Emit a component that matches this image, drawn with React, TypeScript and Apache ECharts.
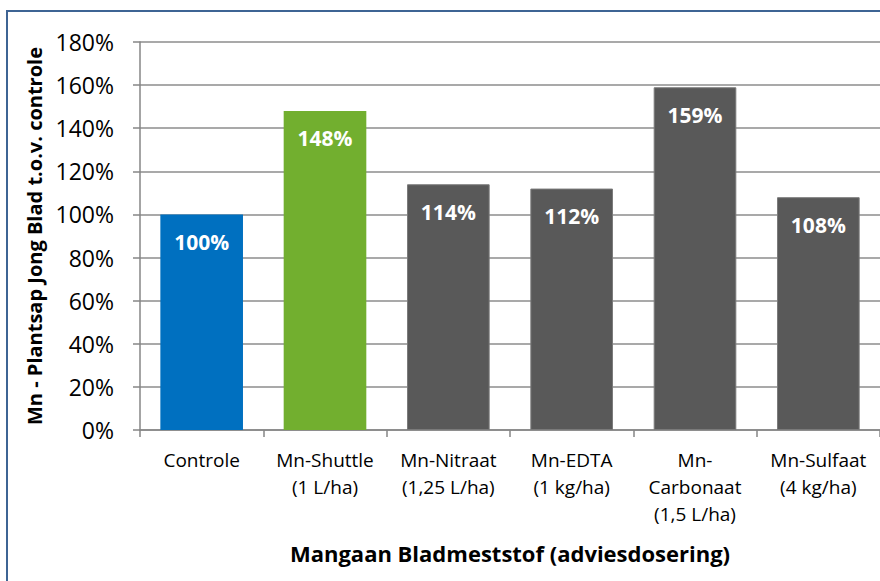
import React, { useEffect, useRef } from "react";
import * as echarts from "echarts";

const categories = [
  "Controle",
  "Mn-Shuttle\n(1 L/ha)",
  "Mn-Nitraat\n(1,25 L/ha)",
  "Mn-EDTA\n(1 kg/ha)",
  "Mn-\nCarbonaat\n(1,5 L/ha)",
  "Mn-Sulfaat\n(4 kg/ha)",
];
const values = [100, 148, 114, 112, 159, 108];
const barColors = ["#0070C0", "#72AF2F", "#595959", "#595959", "#595959", "#595959"];
const yTicks = { min: 0, max: 180, interval: 20 };

const FONT = "'Open Sans', 'Noto Sans', sans-serif";

export default function App() {
  const ref = useRef<HTMLDivElement>(null);
  useEffect(() => {
    document.body.style.margin = "0";
    const chart = echarts.init(ref.current!, undefined, { renderer: "svg" });
    chart.setOption({
      animation: false,
      backgroundColor: "#ffffff",
      textStyle: { fontFamily: FONT },
      graphic: [
        {
          type: "rect",
          shape: { x: 7, y: 11, width: 900, height: 600 },
          style: { fill: "none", stroke: "#3E6494", lineWidth: 2 },
          silent: true,
        },
      ],
      grid: { left: 140, top: 42, width: 742, height: 388, containLabel: false },
      xAxis: {
        type: "category",
        data: categories,
        axisLine: { show: true, lineStyle: { color: "#868686", width: 1.5 } },
        axisTick: { show: true, length: 7, alignWithLabel: false, lineStyle: { color: "#868686", width: 1.5 } },
        axisLabel: { color: "#000", fontSize: 19, fontFamily: FONT, lineHeight: 27, margin: 16, interval: 0 },
        name: "Mangaan Bladmeststof (adviesdosering)",
        nameLocation: "middle",
        nameGap: 112,
        nameTextStyle: { color: "#000", fontSize: 22, fontWeight: "bold", fontFamily: FONT },
      },
      yAxis: {
        type: "value",
        min: yTicks.min,
        max: yTicks.max,
        interval: yTicks.interval,
        axisLine: { show: true, lineStyle: { color: "#868686", width: 1.5 } },
        axisTick: { show: true, length: 7, lineStyle: { color: "#868686", width: 1.5 } },
        splitLine: { show: true, lineStyle: { color: "#8C8C8C", width: 1.5 } },
        axisLabel: { color: "#000", fontSize: 23, fontFamily: FONT, margin: 26, formatter: (v: number) => v + "%" },
        name: "Mn - Plantsap Jong Blad t.o.v. controle",
        nameLocation: "middle",
        nameGap: 92,
        nameRotate: 90,
        nameTextStyle: { color: "#000", fontSize: 20, fontWeight: "bold", fontFamily: FONT },
      },
      series: [
        {
          type: "bar",
          barWidth: "67%",
          data: values.map((v, i) => ({
            value: v,
            itemStyle: { color: barColors[i], borderColor: i > 1 ? "#7A7A7A" : barColors[i], borderWidth: i > 1 ? 1 : 0 },
          })),
          label: {
            show: true,
            position: "insideTop",
            distance: 17,
            color: "#fff",
            fontSize: 21,
            fontWeight: "bold",
            fontFamily: FONT,
            formatter: (p: any) => p.value + "%",
          },
        },
      ],
    });
    return () => chart.dispose();
  }, []);
  return <div ref={ref} style={{ position: "fixed", left: 0, top: 0, width: 880, height: 581 }} />;
}
